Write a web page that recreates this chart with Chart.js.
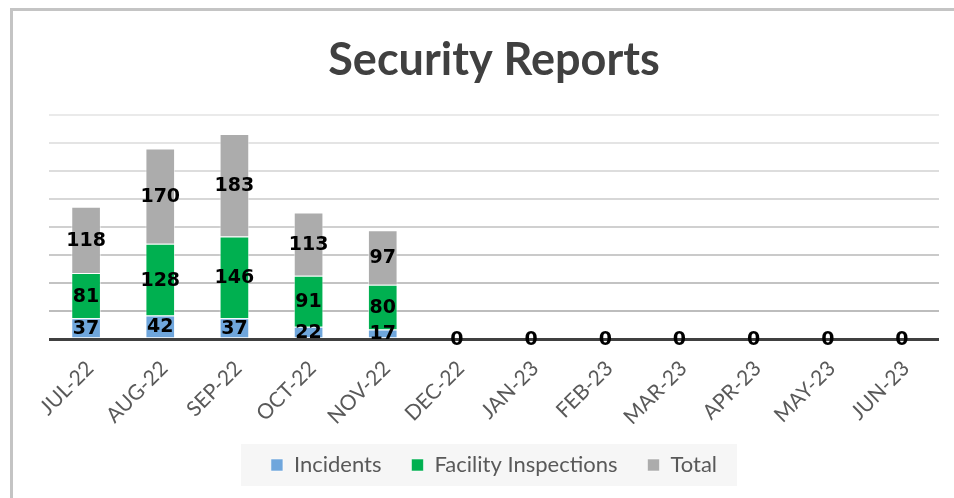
<!DOCTYPE html>
<html>
<head>
<meta charset="utf-8">
<script src="https://cdn.jsdelivr.net/npm/chart.js@4.4.1/dist/chart.umd.min.js"></script>
<style>
  html, body { margin: 0; padding: 0; background: #ffffff; overflow: hidden; }
  canvas { display: block; }
</style>
</head>
<body>
<canvas id="chart" width="954" height="498"></canvas>
<script>
// Monthly security report counts
const months = ['JUL-22', 'AUG-22', 'SEP-22', 'OCT-22', 'NOV-22', 'DEC-22',
                'JAN-23', 'FEB-23', 'MAR-23', 'APR-23', 'MAY-23', 'JUN-23'];
const incidents   = [37, 42, 37, 22, 17, 0, 0, 0, 0, 0, 0, 0];
const inspections = [81, 128, 146, 91, 80, 0, 0, 0, 0, 0, 0, 0];
const totals      = [118, 170, 183, 113, 97, 0, 0, 0, 0, 0, 0, 0];

const yMax = 400;
const yStep = 50;

Chart.defaults.font.family = 'Lato, "Open Sans", sans-serif';

// Outer frame of the chart object (left and top edges)
const framePlugin = {
  id: 'framePlugin',
  beforeDraw(chart) {
    const ctx = chart.ctx;
    ctx.save();
    ctx.strokeStyle = '#c4c4c4';
    ctx.lineWidth = 3;
    ctx.beginPath();
    ctx.moveTo(11.5, chart.height);
    ctx.lineTo(11.5, 9.5);
    ctx.lineTo(chart.width, 9.5);
    ctx.stroke();
    ctx.restore();
  }
};

// Value labels centred inside each stacked segment
const segmentLabels = {
  id: 'segmentLabels',
  afterDatasetsDraw(chart) {
    const ctx = chart.ctx;
    ctx.save();
    ctx.font = 'bold 19px "DejaVu Sans", Verdana, sans-serif';
    ctx.fillStyle = '#000000';
    ctx.textAlign = 'center';
    ctx.textBaseline = 'middle';
    const last = chart.data.datasets.length - 1;
    chart.data.datasets.forEach((ds, i) => {
      const meta = chart.getDatasetMeta(i);
      if (meta.hidden) return;
      // zero values are written once, on the axis line
      meta.data.forEach((bar, j) => {
        const v = ds.data[j];
        if (v === 0 && i !== last) return;
        const y = (bar.y + bar.base) / 2;
        ctx.fillText(String(v), bar.x, y + 1);
      });
    });
    ctx.restore();
  }
};

// Light panel behind the legend
const legendPanel = {
  id: 'legendPanel',
  beforeDraw(chart) {
    const lg = chart.legend;
    if (!lg || !lg.legendHitBoxes || !lg.legendHitBoxes.length) return;
    const boxes = lg.legendHitBoxes;
    const left = boxes[0].left - 30;
    const lastBox = boxes[boxes.length - 1];
    const right = lastBox.left + lastBox.width + 20;
    const cy = boxes[0].top + boxes[0].height / 2;
    const ctx = chart.ctx;
    ctx.save();
    ctx.fillStyle = '#f6f6f6';
    ctx.fillRect(left, cy - 21, right - left, 42);
    ctx.restore();
  }
};

// Grid lines fade from darker near the axis to lighter at the top
function gridColour(ctx) {
  const v = ctx.tick ? ctx.tick.value : 0;
  if (v === 0) return '#404040';
  const t = v / yMax;
  const c = Math.round(182 + t * 52);
  return `rgb(${c},${c},${c})`;
}

new Chart(document.getElementById('chart'), {
  type: 'bar',
  data: {
    labels: months,
    datasets: [
      { label: 'Incidents', data: incidents, backgroundColor: '#6fa6dc',
        borderColor: 'rgba(255,255,255,0.55)', borderWidth: 1 },
      { label: 'Facility Inspections', data: inspections, backgroundColor: '#00b050',
        borderColor: 'rgba(255,255,255,0.55)', borderWidth: 1 },
      { label: 'Total', data: totals, backgroundColor: '#acacac',
        borderColor: 'rgba(255,255,255,0.55)', borderWidth: 1 }
    ]
  },
  options: {
    responsive: false,
    animation: false,
    layout: { padding: { left: 49, right: 15, top: 0, bottom: 12 } },
    datasets: { bar: { categoryPercentage: 1.0, barPercentage: 0.4 } },
    scales: {
      x: {
        stacked: true,
        grid: { display: false },
        border: { display: false },
        ticks: {
          color: '#595959',
          font: { size: 21 },
          minRotation: 45, maxRotation: 45,
          padding: 9,
          labelOffset: 4
        },
        afterFit(scale) { scale.height = 85; }
      },
      y: {
        stacked: true,
        min: 0, max: yMax,
        ticks: { display: false, stepSize: yStep },
        border: { display: false },
        grid: {
          drawTicks: false,
          color: gridColour,
          lineWidth: (ctx) => (ctx.tick && ctx.tick.value === 0 ? 3 : 2)
        }
      }
    },
    plugins: {
      title: {
        display: true,
        text: 'Security Reports',
        color: '#404040',
        font: { size: 45, weight: 'bold' },
        padding: { top: 33, bottom: 28 }
      },
      legend: {
        position: 'bottom',
        labels: {
          color: '#595959',
          font: { size: 22 },
          boxWidth: 12, boxHeight: 12,
          padding: 30
        }
      },
      tooltip: { enabled: false }
    }
  },
  plugins: [framePlugin, legendPanel, segmentLabels]
});
</script>
</body>
</html>
